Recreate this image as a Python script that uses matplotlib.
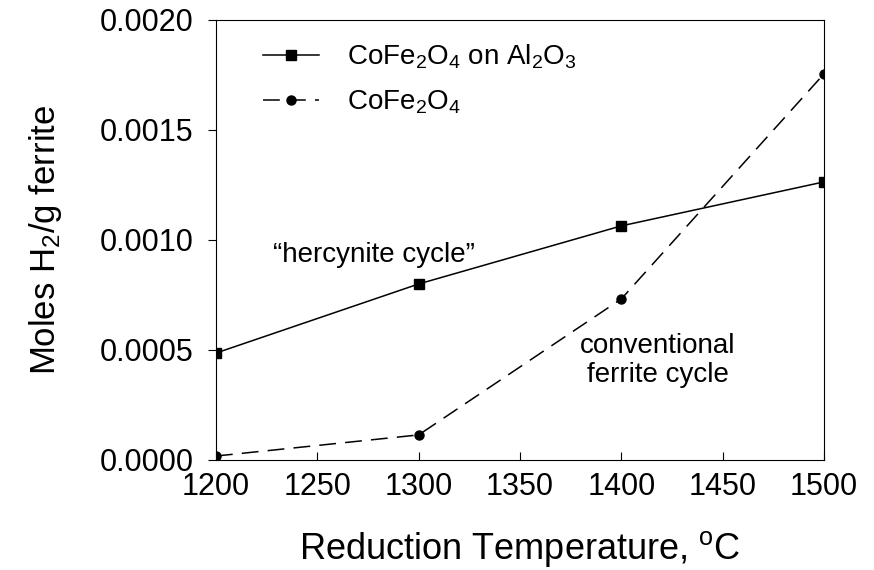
import matplotlib
matplotlib.use('Agg')
import matplotlib.pyplot as plt

# Datos
temps = [1200, 1300, 1400, 1500]
h2_supported = [0.000486, 0.000800, 0.001064, 0.001264]   # CoFe2O4 on Al2O3
h2_ferrite = [0.000018, 0.000114, 0.000732, 0.001755]     # CoFe2O4
x_ticks = [1200, 1250, 1300, 1350, 1400, 1450, 1500]
y_ticks = [0.0, 0.0005, 0.0010, 0.0015, 0.0020]

plt.rcParams['font.family'] = ['Liberation Sans', 'DejaVu Sans']
plt.rcParams['mathtext.fontset'] = 'custom'
plt.rcParams['mathtext.rm'] = 'Liberation Sans'
plt.rcParams['mathtext.it'] = 'Liberation Sans:italic'

fig = plt.figure(figsize=(8.74, 5.70), dpi=100)
ax = fig.add_axes([0.2471, 0.193, 0.6957, 0.772])

ax.plot(temps, h2_supported, color='black', lw=1.1, marker='s', ms=7,
        label=r'CoFe$_2$O$_4$ on Al$_2$O$_3$')
ax.plot(temps, h2_ferrite, color='black', lw=1.1, marker='o', ms=6.5,
        dashes=(11, 6), label=r'CoFe$_2$O$_4$')

ax.set_xlim(1200, 1500)
ax.set_ylim(0, 0.002)
ax.set_xticks(x_ticks)
ax.set_yticks(y_ticks)
ax.set_yticklabels(['%.4f' % v for v in y_ticks])
ax.tick_params(axis='x', direction='in', length=6, labelsize=22, pad=9)
ax.tick_params(axis='y', direction='out', length=6, labelsize=22, pad=10)

ax.set_xlabel(r'Reduction Temperature, $^{\mathrm{o}}$C', fontsize=26, labelpad=19)
ax.set_ylabel(r'Moles H$_2$/g ferrite', fontsize=25, labelpad=26)

ax.text(1278, 0.00093, '\u201chercynite cycle\u201d', fontsize=20, ha='center', va='center')
ax.text(1418, 0.00045, 'conventional\nferrite cycle', fontsize=20, ha='center', va='center',
        linespacing=1.15)

leg = ax.legend(loc='upper left', frameon=False, fontsize=20, handlelength=2.0,
                bbox_to_anchor=(0.037, 1.005), labelspacing=0.62, handletextpad=1.0)

fig.savefig('out.png', dpi=100)
